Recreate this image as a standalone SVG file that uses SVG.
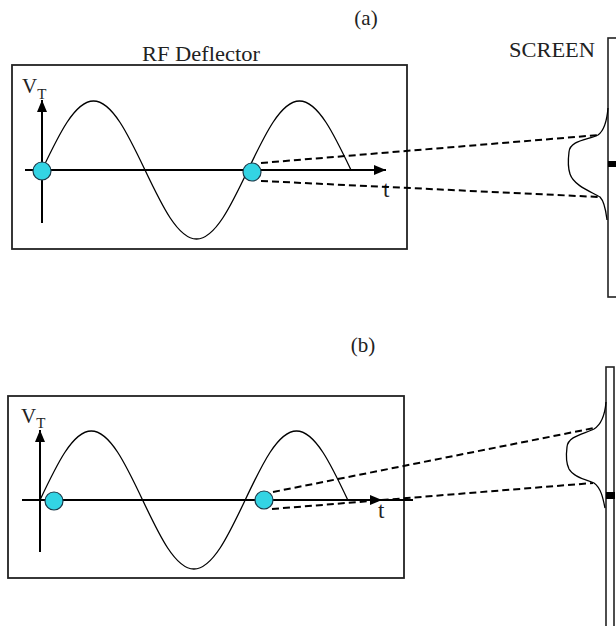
<svg xmlns="http://www.w3.org/2000/svg" width="616" height="626" viewBox="0 0 616 626">
<defs>
<marker id="arr" viewBox="0 0 12 10" refX="12" refY="5" markerWidth="12" markerHeight="10" markerUnits="userSpaceOnUse" orient="auto">
<path d="M0,0 L12,5 L0,10 Z" fill="#000"/>
</marker>
<style>
.box{fill:none;stroke:#222;stroke-width:1.8}
.axis{fill:none;stroke:#000;stroke-width:2}
.wave{fill:none;stroke:#000;stroke-width:1.3}
.dash{fill:none;stroke:#000;stroke-width:2;stroke-dasharray:7 4}
.dot{fill:#33D4E4;stroke:#1a3a4a;stroke-width:1.2}
.scr{fill:#fff;stroke:#222;stroke-width:1.6}
.prof{fill:none;stroke:#000;stroke-width:1.3}
.lbl{font-family:"Liberation Serif","Times New Roman",serif;fill:#222}
</style>
</defs>

<g id="panel-a">
<text class="lbl" x="366" y="25" font-size="21" text-anchor="middle">(a)</text>
<g id="deflector-a">
<text class="lbl" x="201" y="61" font-size="21" text-anchor="middle" textLength="118" lengthAdjust="spacingAndGlyphs">RF Deflector</text>
<rect class="box" x="12" y="65" width="395" height="184"/>
<line class="axis" x1="25" y1="170" x2="386" y2="170" marker-end="url(#arr)"/>
<line class="axis" x1="42" y1="223" x2="42" y2="100" marker-end="url(#arr)"/>
<text class="lbl" x="22" y="93" font-size="21">V<tspan font-size="15" dy="6">T</tspan></text>
<text class="lbl" x="383" y="197" font-size="23">t</text>
<path class="wave" d="M42,170 C58.8,134.7 74.9,101 93.5,101 C112.1,101 128.2,134.7 145,170 C161.8,205.3 177.9,239 196.5,239 C215.1,239 231.2,205.3 248,170 C264.8,134.7 280.9,101 299.5,101 C318.1,101 334.2,134.7 351,170"/>
<circle class="dot" cx="42" cy="171" r="9"/>
<circle class="dot" cx="252" cy="172" r="9"/>
</g>
<g id="screen-a">
<text class="lbl" x="552" y="57" font-size="22" text-anchor="middle" textLength="86" lengthAdjust="spacingAndGlyphs">SCREEN</text>
<rect class="scr" x="608" y="38" width="14" height="259"/>
<rect x="608" y="161" width="9" height="6" fill="#000"/>
<path class="prof" d="M608,108 C607,120 605,130 598,135 C588,140 570,140 569,152 C568,160 568,168 570,174 C574,186 592,192 600,197 C605,202 606,212 607,220"/>
</g>
</g>

<g id="panel-b">
<text class="lbl" x="363" y="352" font-size="21" text-anchor="middle">(b)</text>
<g id="deflector-b">
<rect class="box" x="8" y="396" width="396" height="182"/>
<line class="axis" x1="22" y1="500" x2="413" y2="500"/>
<line class="axis" x1="370" y1="500" x2="382" y2="500" marker-end="url(#arr)"/>
<line class="axis" x1="40" y1="552" x2="40" y2="430" marker-end="url(#arr)"/>
<text class="lbl" x="21" y="423" font-size="21">V<tspan font-size="15" dy="5">T</tspan></text>
<text class="lbl" x="378" y="518" font-size="23">t</text>
<path class="wave" d="M40,500 C56.7,464.7 72.7,431 91.3,431 C109.9,431 125.9,464.7 142.6,500 C159.3,535.3 175.3,569 193.9,569 C212.5,569 228.5,535.3 245.2,500 C261.9,464.7 277.9,431 296.5,431 C315.1,431 331.1,464.7 347.8,500"/>
<circle class="dot" cx="54" cy="501" r="9"/>
<circle class="dot" cx="264" cy="500" r="9"/>
</g>
<g id="screen-b">
<rect class="scr" x="606" y="367" width="8" height="270"/>
<rect x="606" y="492" width="9" height="7" fill="#000"/>
<path class="prof" d="M606,402 C605,414 602,424 594,429 C584,434 568,436 567,447 C566,455 566,463 569,469 C574,478 588,480 594,483 C601,488 603,498 605,508"/>
</g>
</g>

<g id="connectors">
<line class="dash" x1="261" y1="163" x2="599" y2="135"/>
<line class="dash" x1="261" y1="181" x2="599" y2="197"/>
<line class="dash" x1="273" y1="492" x2="594" y2="428"/>
<line class="dash" x1="272" y1="509" x2="593" y2="483"/>
</g>
</svg>
